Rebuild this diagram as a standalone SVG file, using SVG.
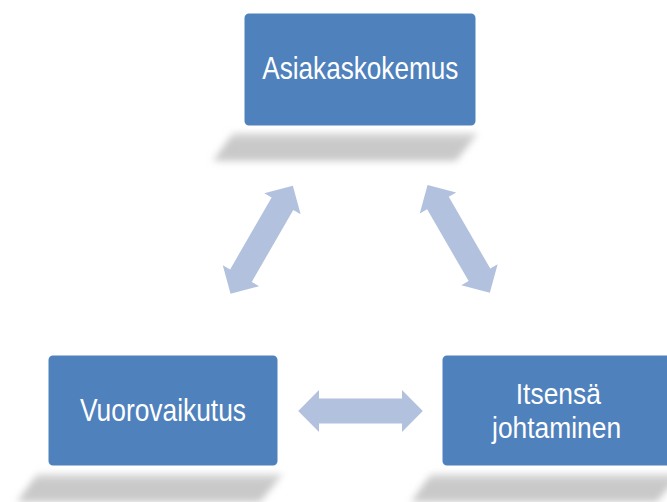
<svg xmlns="http://www.w3.org/2000/svg" xmlns:xlink="http://www.w3.org/1999/xlink" width="667" height="502" viewBox="0 0 667 502">
<style>
.box{fill:#4F81BD;stroke:#FFFFFF;stroke-width:3}
.shadow{fill:url(#shg);filter:url(#blur)}
.lbl{font-family:"Liberation Sans Narrow","Liberation Sans",Arial,sans-serif;font-size:32px;fill:#FFFFFF;text-anchor:middle}
.lbl2{font-size:30px}
.arr{fill:#B2C2DE}
</style>
<defs>
<filter id="blur" x="-20%" y="-60%" width="140%" height="220%"><feGaussianBlur stdDeviation="3.5"/></filter>
<linearGradient id="shg" x1="0" y1="0" x2="0" y2="1">
<stop offset="0" stop-color="#DADADA"/>
<stop offset="0.35" stop-color="#C8C8C8"/>
<stop offset="1" stop-color="#CACACA"/>
</linearGradient>
<path id="dbl" d="M -62.3 0 L -41.5 -21 L -41.5 -12.5 L 41.5 -12.5 L 41.5 -21 L 62.3 0 L 41.5 21 L 41.5 12.5 L -41.5 12.5 L -41.5 21 Z"/>
</defs>
<rect width="667" height="502" fill="#FFFFFF"/>
<g id="connectors">
<use xlink:href="#dbl" class="arr" transform="translate(261.7 239.7) rotate(-60)"/>
<use xlink:href="#dbl" class="arr" transform="translate(458.7 238.9) rotate(60)"/>
<use xlink:href="#dbl" class="arr" transform="translate(360.5 411)"/>
</g>
<g id="node-asiakaskokemus">
<polygon class="shadow" points="233,133 478,133 456,161 213,161"/>
<rect class="box" x="243" y="12" width="234" height="115" rx="6"/>
<text class="lbl" x="360.3" y="79.3" textLength="196" lengthAdjust="spacingAndGlyphs">Asiakaskokemus</text>
</g>
<g id="node-vuorovaikutus">
<polygon class="shadow" points="37,474 283,474 260,502 17,502"/>
<rect class="box" x="47" y="354" width="232" height="113" rx="6"/>
<text class="lbl" x="163" y="421" textLength="166" lengthAdjust="spacingAndGlyphs">Vuorovaikutus</text>
</g>
<g id="node-itsensa-johtaminen">
<polygon class="shadow" points="431,474 680,474 657,502 411,502"/>
<rect class="box" x="441" y="354" width="233" height="113" rx="6"/>
<text class="lbl lbl2" x="558.3" y="403.5" textLength="85" lengthAdjust="spacingAndGlyphs">Itsensä</text>
<text class="lbl lbl2" x="556.6" y="437.5" textLength="129" lengthAdjust="spacingAndGlyphs">johtaminen</text>
</g>
</svg>
